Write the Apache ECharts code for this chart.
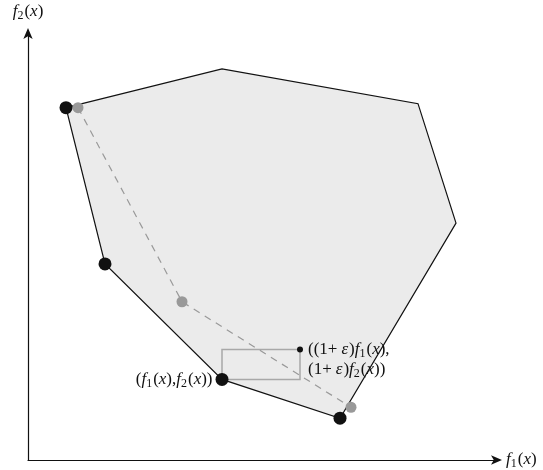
<!DOCTYPE html>
<html>
<head>
<meta charset="utf-8">
<script src="https://cdn.jsdelivr.net/npm/echarts@6/dist/echarts.min.js"></script>
<style>
  html, body { margin: 0; padding: 0; background: #fff; }
  #chart { width: 543px; height: 470px; }
</style>
</head>
<body>
<div id="chart"></div>
<script>
// feasible region (convex hull), clockwise from the top-left vertex
var hullX = [38, 194, 390, 428, 312, 194, 77];
var hullY = [354, 393, 358, 238, 42, 81, 197];
// black points: vertices on the lower-left boundary
var blackX = [38, 77, 194, 312];
var blackY = [354, 197, 81, 42];
// grey approximation points joined by the dashed line
var greyX = [50, 154, 323];
var greyY = [354, 159, 53];
// epsilon box: from (f1, f2) to ((1+e)f1, (1+e)f2)
var boxX = [194, 272];
var boxY = [81, 111];

var serif = 'Liberation Serif';
var rich = {
  n: { fontFamily: serif, fontSize: 17, color: '#111' },
  i: { fontFamily: serif, fontSize: 17, fontStyle: 'italic', color: '#111' },
  s: { fontFamily: serif, fontSize: 12, color: '#111', padding: [8, 1, 0, 0] },
  g: { fontFamily: serif, fontSize: 17, fontStyle: 'italic', color: '#111', padding: [0, 1, 0, 4] }
};

var chart = echarts.init(document.getElementById('chart'));

var option = {
  animation: false,
  backgroundColor: '#fff',
  grid: { left: 28, right: 45, top: 32, bottom: 8 },
  xAxis: {
    type: 'value', min: 0, max: 470,
    name: '{i|f}{s|1}{n|(}{i|x}{n|)}',
    nameLocation: 'end', nameGap: 8,
    nameTextStyle: { rich: rich },
    axisLine: { show: true, symbol: ['none', 'arrow'], symbolSize: [7, 11], symbolOffset: [0, 4], lineStyle: { color: '#111', width: 1.2 } },
    axisTick: { show: false }, axisLabel: { show: false }, splitLine: { show: false }
  },
  yAxis: {
    type: 'value', min: 0, max: 430,
    name: '{i|f}{s|2}{n|(}{i|x}{n|)}',
    nameLocation: 'end', nameGap: 10,
    nameTextStyle: { rich: rich },
    axisLine: { show: true, symbol: ['none', 'arrow'], symbolSize: [7, 11], symbolOffset: [0, 4], lineStyle: { color: '#111', width: 1.2 } },
    axisTick: { show: false }, axisLabel: { show: false }, splitLine: { show: false }
  },
  series: [
    {
      type: 'custom',
      z: 1,
      silent: true,
      data: hullX.map(function (x, i) { return [x, hullY[i]]; }),
      renderItem: function (params, api) {
        if (params.dataIndex !== 0) return;
        var pts = hullX.map(function (x, i) { return api.coord([x, hullY[i]]); });
        return {
          type: 'polygon',
          shape: { points: pts },
          style: { fill: '#ebebeb', stroke: '#111', lineWidth: 1.2 }
        };
      }
    },
    {
      type: 'custom',
      z: 2,
      silent: true,
      data: [[boxX[0], boxY[0]]],
      renderItem: function (params, api) {
        var p0 = api.coord([boxX[0], boxY[0]]);
        var p1 = api.coord([boxX[1], boxY[1]]);
        return {
          type: 'rect',
          shape: { x: p0[0], y: p1[1], width: p1[0] - p0[0], height: p0[1] - p1[1] },
          style: { fill: 'none', stroke: '#a8a8a8', lineWidth: 1.5 }
        };
      }
    },
    {
      type: 'line',
      z: 3,
      data: greyX.map(function (x, i) { return [x, greyY[i]]; }),
      symbol: 'none',
      lineStyle: { color: '#999', width: 1.2, type: [7, 6] }
    },
    {
      type: 'scatter',
      z: 4,
      data: greyX.map(function (x, i) { return [x, greyY[i]]; }),
      symbolSize: 11,
      itemStyle: { color: '#999', opacity: 1 }
    },
    {
      type: 'scatter',
      z: 5,
      data: blackX.map(function (x, i) {
        var d = { value: [x, blackY[i]] };
        if (x === boxX[0] && blackY[i] === boxY[0]) {
          d.label = {
            show: true, position: 'left', distance: 3,
            formatter: '{n|(}{i|f}{s|1}{n|(}{i|x}{n|),}{i|f}{s|2}{n|(}{i|x}{n|))}',
            rich: rich
          };
        }
        return d;
      }),
      symbolSize: 13,
      itemStyle: { color: '#111', opacity: 1 }
    },
    {
      type: 'scatter',
      z: 5,
      data: [[boxX[1], boxY[1]]],
      symbolSize: 6,
      itemStyle: { color: '#111', opacity: 1 },
      label: {
        show: true, position: 'right', distance: 5, offset: [0, 10],
        lineHeight: 20,
        formatter: '{n|((1+}{g|ε}{n|)}{i|f}{s|1}{n|(}{i|x}{n|),}\n{n|(1+}{g|ε}{n|)}{i|f}{s|2}{n|(}{i|x}{n|))}',
        rich: rich
      }
    }
  ]
};

chart.setOption(option);
</script>
</body>
</html>
